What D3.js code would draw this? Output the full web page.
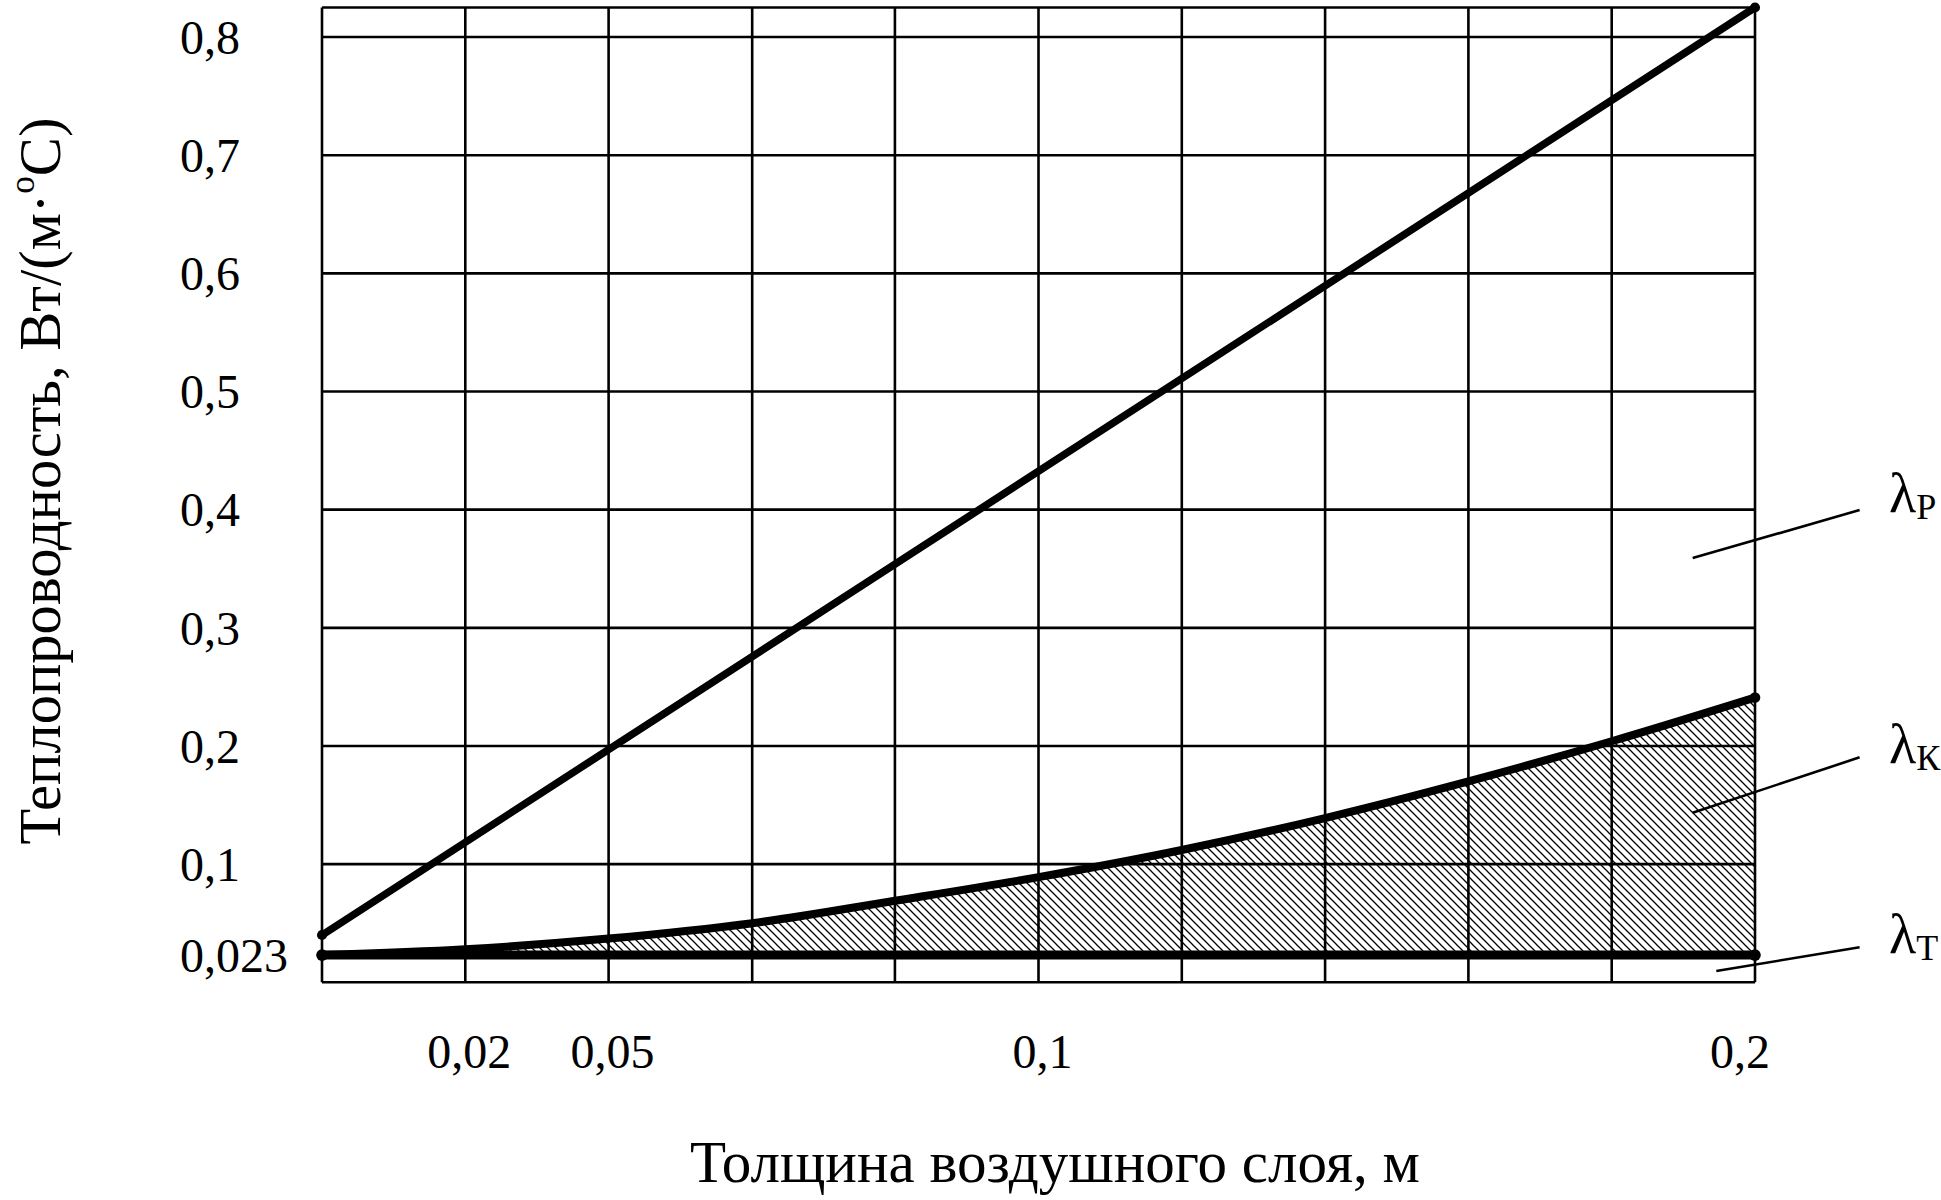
<!DOCTYPE html>
<html><head><meta charset="utf-8">
<script src="https://cdn.jsdelivr.net/npm/d3@7"></script>
<style>body{margin:0;background:#fff} svg{display:block}</style>
</head><body>
<svg id="chart" width="1941" height="1200"></svg>
<script>
// ---- data ----
const yTicks = [0.1, 0.2, 0.3, 0.4, 0.5, 0.6, 0.7, 0.8];
const yTickLabels = ["0,1", "0,2", "0,3", "0,4", "0,5", "0,6", "0,7", "0,8"];
const yBaseTick = 0.023;
const yBaseTickLabel = "0,023";
const xTicks = [0.02, 0.05, 0.1, 0.2];
const xTickLabels = ["0,02", "0,05", "0,1", "0,2"];
const xGridValues = [0, 0.02, 0.05, 0.0667, 0.0833, 0.1, 0.12, 0.14, 0.16, 0.18, 0.2];
const lambdaKx = [0, 0.02, 0.05, 0.0667, 0.0833, 0.1, 0.12, 0.14, 0.16, 0.18, 0.2];
const lambdaKy = [0.023, 0.028, 0.037, 0.050, 0.069, 0.089, 0.112, 0.139, 0.170, 0.204, 0.241];
const lambdaPx = [0, 0.2];
const lambdaPy = [0.040, 0.825];
const lambdaTx = [0, 0.2];
const lambdaTy = [0.023, 0.023];
const seriesNames = ["Р", "К", "Т"];
const leaderFrom = [[0.1913, 0.359], [0.1913, 0.1435], [0.1946, 0.0096]];
const leaderTo = [[0.2146, 0.3997], [0.2146, 0.1904], [0.2146, 0.0296]];
const labelAt = [[0.2187, 0.398], [0.2187, 0.1856], [0.2187, 0.0248]];
const xTitle = "Толщина воздушного слоя, м";
const yTitleMain = "Теплопроводность, Вт/(м·";
const yTitleSup = "о";
const yTitleEnd = "С)";

// ---- layout ----
const plotLeft = 322, colStep = 143.3, plotTop = 7.5, plotBottom = 982.3;
const yMax = 0.825;
const FONT = "'Liberation Serif', 'Times New Roman', serif";

const svg = d3.select("#chart");
svg.append("rect").attr("width", 1941).attr("height", 1200).attr("fill", "#fff");

const x = d3.scaleLinear()
  .domain([0, 0.02, 0.05, 0.1, 0.2])
  .range([0, 1, 2, 5, 10].map(i => plotLeft + i * colStep));
const y = d3.scaleLinear().domain([0, yMax]).range([plotBottom, plotTop]);

// hatch pattern
const defs = svg.append("defs");
const pat = defs.append("pattern").attr("id", "hatch")
  .attr("patternUnits", "userSpaceOnUse").attr("width", 8).attr("height", 8);
pat.append("path").attr("d", "M-2,-2 L10,10 M-2,6 L2,10 M6,-2 L10,2")
  .attr("stroke", "#000").attr("stroke-width", 1.3);

const kData = lambdaKx.map((v, i) => [v, lambdaKy[i]]);
const area = d3.area()
  .x(d => x(d[0])).y0(y(lambdaTy[0])).y1(d => y(d[1]))
  .curve(d3.curveMonotoneX);
svg.append("path").datum(kData).attr("d", area).attr("fill", "url(#hatch)");

// grid
const g = svg.append("g").attr("stroke", "#000").attr("stroke-width", 2.6).attr("fill", "none");
g.selectAll("line.v").data(xGridValues).join("line").attr("class", "v")
  .attr("x1", d => x(d)).attr("x2", d => x(d)).attr("y1", y(yMax)).attr("y2", y(0));
g.selectAll("line.h").data([0, ...yTicks, yMax]).join("line").attr("class", "h")
  .attr("x1", x(0)).attr("x2", x(0.2)).attr("y1", d => y(d)).attr("y2", d => y(d));

// curves
const line = d3.line().x(d => x(d[0])).y(d => y(d[1]));
const series = [
  { pts: lambdaPx.map((v, i) => [v, lambdaPy[i]]), curve: d3.curveLinear, w: 7.5 },
  { pts: kData, curve: d3.curveMonotoneX, w: 8 },
  { pts: lambdaTx.map((v, i) => [v, lambdaTy[i]]), curve: d3.curveLinear, w: 9 }
];
series.forEach(s => {
  svg.append("path").datum(s.pts).attr("d", line.curve(s.curve))
    .attr("fill", "none").attr("stroke", "#000").attr("stroke-width", s.w)
    .attr("stroke-linecap", "round");
  [s.pts[0], s.pts[s.pts.length - 1]].forEach(p =>
    svg.append("circle").attr("cx", x(p[0])).attr("cy", y(p[1])).attr("r", s.w / 2 + 1.3).attr("fill", "#000"));
});

// y tick labels
const yt = svg.append("g").attr("font-family", FONT).attr("font-size", 48).attr("fill", "#000");
yt.selectAll("text").data(yTicks.map((v, i) => [v, yTickLabels[i]]).concat([[yBaseTick, yBaseTickLabel]]))
  .join("text").attr("x", 180).attr("y", d => y(d[0])).attr("dy", "0.35em")
  .text(d => d[1]);

// x tick labels
const xt = svg.append("g").attr("font-family", FONT).attr("font-size", 48).attr("fill", "#000")
  .attr("text-anchor", "middle");
xt.selectAll("text").data(xTicks.map((v, i) => [v, xTickLabels[i]]))
  .join("text").attr("x", (d, i) => x(d[0]) + (i === xTicks.length - 1 ? -15 : 4))
  .attr("y", 1068).text(d => d[1]);

// leaders and labels
const ann = svg.append("g");
seriesNames.forEach((n, i) => {
  ann.append("line")
    .attr("x1", x(leaderFrom[i][0])).attr("y1", y(leaderFrom[i][1]))
    .attr("x2", x(leaderTo[i][0])).attr("y2", y(leaderTo[i][1]))
    .attr("stroke", "#000").attr("stroke-width", 2.6);
  const t = ann.append("text").attr("font-family", FONT).attr("font-size", 56)
    .attr("x", x(labelAt[i][0])).attr("y", y(labelAt[i][1]));
  t.append("tspan").text("λ");
  t.append("tspan").attr("font-size", 36).attr("dy", 7).text(n);
});

// axis titles, fitted to their measured width in the reference
function fit(sel, target) {
  const w = sel.node().getComputedTextLength();
  const fs = parseFloat(sel.attr("font-size"));
  sel.attr("font-size", fs * target / w);
}
const xt2 = svg.append("text").attr("font-family", FONT).attr("font-size", 54)
  .attr("text-anchor", "middle").attr("x", 1055).attr("y", 1182).text(xTitle);
fit(xt2, 730);

const ytt = svg.append("text").attr("font-family", FONT).attr("font-size", 54)
  .attr("text-anchor", "middle").attr("transform", "translate(60,481) rotate(-90)");
ytt.append("tspan").text(yTitleMain);
ytt.append("tspan").attr("font-size", "0.6em").attr("dy", "-0.75em").text(yTitleSup);
ytt.append("tspan").attr("dy", "0.45em").text(yTitleEnd);
fit(ytt, 727);
</script>
</body></html>
